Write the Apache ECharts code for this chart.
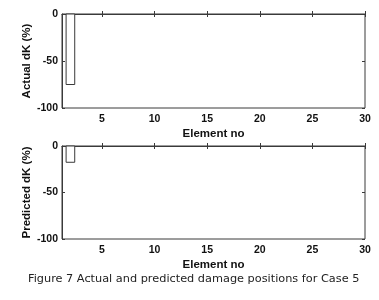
<!DOCTYPE html>
<html><head><meta charset="utf-8">
<script src="https://cdn.jsdelivr.net/npm/echarts@6/dist/echarts.min.js"></script>
<style>html,body{margin:0;padding:0;background:#fff}#c{width:379px;height:300px}</style>
</head><body><div id="c"></div>
<script>
var elements = [];
for (var i = 1; i <= 30; i++) elements.push(i);
var actualDK = [0,-75,0,0,0,0,0,0,0,0,0,0,0,0,0,0,0,0,0,0,0,0,0,0,0,0,0,0,0,0];
var predictedDK = [0,-17.5,0,0,0,0,0,0,0,0,0,0,0,0,0,0,0,0,0,0,0,0,0,0,0,0,0,0,0,0];
var xTicks = [5,10,15,20,25,30];
var yTicks = [-100,-50,0];
var xTitle = 'Element no';
var yTitles = ['Actual dK (%)', 'Predicted dK (%)'];
var caption = 'Figure 7 Actual and predicted damage positions for Case 5';

var lineC = '#3a3a3a';
var font = 'Liberation Sans';
var grids = [
  {left: 62, right: 14, top: 14, height: 94, show: true, borderColor: lineC, borderWidth: 1},
  {left: 62, right: 14, top: 146, height: 93, show: true, borderColor: lineC, borderWidth: 1}
];
var xAxes = [], yAxes = [], series = [];
[actualDK, predictedDK].forEach(function (vals, g) {
  xAxes.push({
    type: 'value', gridIndex: g, min: 1.2, max: 30, position: 'bottom',
    name: xTitle, nameLocation: 'middle', nameGap: 20,
    nameTextStyle: {fontFamily: font, fontWeight: 'bold', fontSize: 11.5, color: '#111'},
    axisLine: {show: true, lineStyle: {color: lineC}},
    axisTick: {show: true, inside: true, length: 3, customValues: xTicks, lineStyle: {color: lineC}},
    axisLabel: {customValues: xTicks, fontFamily: font, fontWeight: 'bold', fontSize: 10.5, color: '#111', margin: 6},
    splitLine: {show: false}
  });
  xAxes.push({
    type: 'value', gridIndex: g, min: 1.2, max: 30, position: 'top',
    axisLine: {show: false},
    axisTick: {show: true, inside: true, length: 3, customValues: xTicks, lineStyle: {color: lineC}},
    axisLabel: {show: false}, splitLine: {show: false}
  });
  yAxes.push({
    type: 'value', gridIndex: g, min: -100, max: 0, interval: 50, position: 'left',
    name: yTitles[g], nameLocation: 'middle', nameGap: 29, nameMoveOverlap: false,
    nameTextStyle: {fontFamily: font, fontWeight: 'bold', fontSize: 11.5, color: '#111'},
    axisLine: {show: true, lineStyle: {color: lineC}},
    axisTick: {show: true, inside: true, length: 3, lineStyle: {color: lineC}},
    axisLabel: {fontFamily: font, fontWeight: 'bold', fontSize: 10.5, color: '#111', margin: 4},
    splitLine: {show: false}
  });
  yAxes.push({
    type: 'value', gridIndex: g, min: -100, max: 0, interval: 50, position: 'right',
    axisLine: {show: false},
    axisTick: {show: true, inside: true, length: 3, lineStyle: {color: lineC}},
    axisLabel: {show: false}, splitLine: {show: false}
  });
  series.push({
    type: 'custom', xAxisIndex: g * 2, yAxisIndex: g * 2,
    data: elements.map(function (e, i) { return [e, vals[i]]; }),
    renderItem: function (params, api) {
      var x = api.value(0), v = api.value(1);
      if (v === 0) return null;
      var p0 = api.coord([x - 0.41, 0]);
      var p1 = api.coord([x + 0.41, v]);
      return {
        type: 'rect',
        shape: {x: p0[0], y: p0[1], width: p1[0] - p0[0], height: p1[1] - p0[1]},
        style: {fill: '#fff', stroke: lineC, lineWidth: 1}
      };
    }
  });
});

var chart = echarts.init(document.getElementById('c'), null, {renderer: 'canvas'});
chart.setOption({
  backgroundColor: '#fff',
  animation: false,
  title: {text: caption, left: 23, top: 269,
    textStyle: {fontFamily: 'DejaVu Sans', fontWeight: 'normal', fontSize: 11.3, color: '#222'}},
  grid: grids, xAxis: xAxes, yAxis: yAxes, series: series
});
</script></body></html>
